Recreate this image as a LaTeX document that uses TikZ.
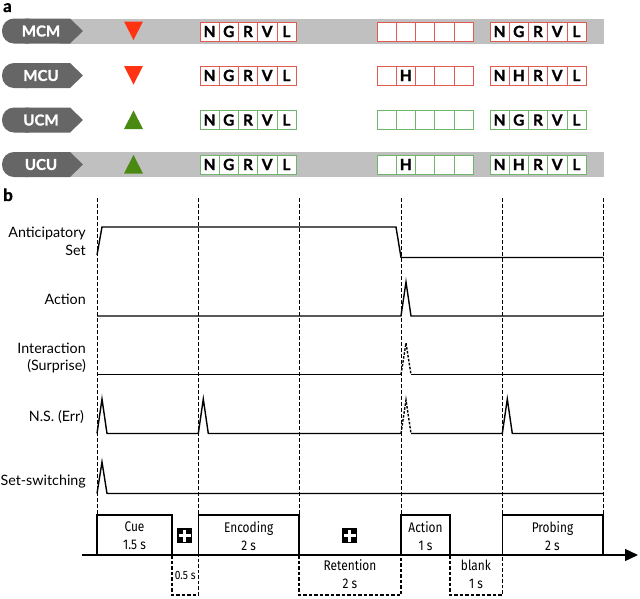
\documentclass[tikz,border=0pt]{standalone}
\usepackage{fontspec}
\setmainfont{Lato}
\newfontfamily\cond[FakeStretch=0.85]{Fira Sans}
\newfontfamily\heavy[FakeBold=1.2]{Lato}
\usetikzlibrary{arrows.meta}
\definecolor{tagcol}{HTML}{666666}
\definecolor{barcol}{HTML}{C0C0C0}
\definecolor{cellred}{HTML}{E05A50}
\definecolor{cellgreen}{HTML}{6FB56A}
\definecolor{trired}{HTML}{FF3311}
\definecolor{trigreen}{HTML}{4A8A12}
\tikzset{
  cellbox/.style={draw=#1, line width=0.6pt, fill=white, minimum width=19.2pt, minimum height=19pt, inner sep=0pt, font=\heavy\bfseries\fontsize{15.5}{15.5}\selectfont},
  tagtext/.style={text=white, font=\heavy\bfseries\fontsize{15}{15}\selectfont, inner sep=0pt},
  rowlabel/.style={anchor=east, align=right, font=\fontsize{14.3}{17.5}\selectfont, inner sep=0pt},
  panel/.style={font=\heavy\bfseries\fontsize{17}{17}\selectfont, inner sep=0pt},
  trace/.style={line width=1.4pt, line join=miter},
  dtrace/.style={line width=1.4pt, dash pattern=on 2.5pt off 1.5pt},
  guide/.style={line width=0.7pt, dash pattern=on 3.5pt off 2.5pt},
  phase/.style={line width=1.4pt},
  dphase/.style={line width=1.4pt, dash pattern=on 3.5pt off 2pt},
  phasetext/.style={align=center, font=\cond\fontsize{14}{18}\selectfont, inner sep=0pt},
  plusbox/.style={fill=black, minimum size=15.5pt, inner sep=0pt}
}
\begin{document}
\begin{tikzpicture}[x=1pt,y=-1pt]
\useasboundingbox (0,0) rectangle (640,598);
% ---------- panel a ----------
\node[panel, anchor=base west] (pa) at (3,12) {a};
% gray bars rows 1 and 4
\fill[barcol] (60,18.5) rectangle (604,43.5);
\fill[barcol] (60,152) rectangle (604,177);
% tags
\foreach \yc/\lab/\nm in {31/MCM/t1,75.5/MCU/t2,120/UCM/t3,164.5/UCU/t4}{
  \pgfmathsetmacro{\ya}{\yc-12.5}
  \pgfmathsetmacro{\yb}{\yc+12.5}
  \fill[tagcol, rounded corners=12pt] (2,\ya) rectangle (40,\yb);
  \fill[tagcol] (25,\ya) -- (70,\ya) -- (83,\yc) -- (70,\yb) -- (25,\yb) -- cycle;
  \node[tagtext] (\nm) at (41,\yc) {\lab};
}
% triangles
\fill[trired] (124,21.5) -- (143,21.5) -- (133.5,40) -- cycle;
\fill[trired] (124,66) -- (143,66) -- (133.5,84.5) -- cycle;
\fill[trigreen] (124,129) -- (143,129) -- (133.5,110.5) -- cycle;
\fill[trigreen] (124,173.5) -- (143,173.5) -- (133.5,155) -- cycle;
% cells
\foreach \r/\yc/\col/\A/\B/\C in {1/31.5/cellred/{}/G/G, 2/75.5/cellred/H/G/H, 3/120/cellgreen/{}/G/G, 4/164.5/cellgreen/H/G/H}{
  \foreach \i/\L in {1/N,2/\B,3/R,4/V,5/L}{
    \node[cellbox=\col] (r\r a\i) at ({200+9.6+19.2*(\i-1)},\yc) {\L};
  }
  \foreach \i in {1,...,5}{
    \node[cellbox=\col] (r\r b\i) at ({377+9.6+19.2*(\i-1)},\yc) {};
  }
  \node[font=\heavy\bfseries\fontsize{15.5}{15.5}\selectfont, inner sep=0pt] (r\r h) at (r\r b2) {\A};
  \foreach \i/\L in {1/N,2/\C,3/R,4/V,5/L}{
    \node[cellbox=\col] (r\r c\i) at ({490+9.6+19.2*(\i-1)},\yc) {\L};
  }
}
% ---------- panel b ----------
\node[panel, anchor=base west] (pb) at (3,201) {b};
\foreach \x/\n in {97/g0,198.3/g1,299.7/g2,401/g3,502.3/g4,603.6/g5}{
  \coordinate (\n t) at (\x,198);
  \coordinate (\n b) at (\x,515);
  \draw[guide] (\n t) -- (\n b);
}
% row labels
\node[rowlabel] (lant) at (86,241.5) {Anticipatory\\Set};
\node[rowlabel] (lact) at (86,299) {Action};
\node[rowlabel] (lint) at (86,358) {Interaction\\(Surprise)};
\node[rowlabel] (lns) at (84,417) {N.S. (Err)};
\node[rowlabel] (lss) at (86,481.5) {Set-switching};
% traces
\draw[trace] (97,255) -- (102,227) -- (396,227) -- (401,257.5) -- (603.6,257.5);
\draw[trace] (97,316) -- (401,316) -- (406,282) -- (411,316) -- (603.6,316);
\draw[trace] (97,374.5) -- (401,374.5);
\draw[trace] (411,374.5) -- (603.6,374.5);
\draw[dtrace] (401,374.5) -- (406,343) -- (411,374.5);
\draw[trace] (97,433.5) -- (102,399) -- (107,433.5) -- (198.3,433.5) -- (203.3,399) -- (208.3,433.5) -- (401,433.5);
\draw[dtrace] (401,433.5) -- (406,400) -- (411,433.5);
\draw[trace] (411,433.5) -- (502.3,433.5) -- (507.3,399) -- (512.3,433.5) -- (603.6,433.5);
\draw[trace] (97,493.5) -- (102,462) -- (107,493.5) -- (603.6,493.5);
% timeline axis
\coordinate (ax0) at (82,555);
\coordinate (ax1) at (638,555);
\draw[phase, -{Triangle[length=13pt,width=12pt]}] (ax0) -- (ax1);
% phases above
\draw[phase] (97,555) -- (97,515) -- (172,515) -- (172,555);
\node[phasetext] (cue) at (134.5,536) {Cue\\1.5 s};
\node[plusbox] (p1) at (184.5,535.5) {};
\draw[white, line width=2.4pt] (184.5,529.5) -- (184.5,541.5) (178.5,535.5) -- (190.5,535.5);
\draw[phase] (198.3,555) -- (198.3,515) -- (299,515) -- (299,555);
\node[phasetext] (enc) at (248.7,536) {Encoding\\2 s};
\node[plusbox] (p2) at (349.5,535.5) {};
\draw[white, line width=2.4pt] (349.5,529.5) -- (349.5,541.5) (343.5,535.5) -- (355.5,535.5);
\draw[phase] (401,555) -- (401,515) -- (450,515) -- (450,555);
\node[phasetext] (act) at (425.5,536) {Action\\1 s};
\draw[phase] (502.3,555) -- (502.3,515) -- (602.8,515) -- (602.8,555);
\node[phasetext] (prob) at (552.5,536) {Probing\\2 s};
% phases below
\draw[dphase] (172,555) -- (172,595) -- (198.3,595) -- (198.3,555);
\node[phasetext, font=\cond\fontsize{12}{13}\selectfont] (half) at (185.2,575) {0.5 s};
\draw[dphase] (299,555) -- (299,595) -- (401,595) -- (401,555);
\node[phasetext] (ret) at (350,574.5) {Retention\\2 s};
\draw[dphase] (450,555) -- (450,595) -- (502.3,595) -- (502.3,555);
\node[phasetext] (blank) at (476,574.5) {blank\\1 s};
\end{tikzpicture}
\end{document}
